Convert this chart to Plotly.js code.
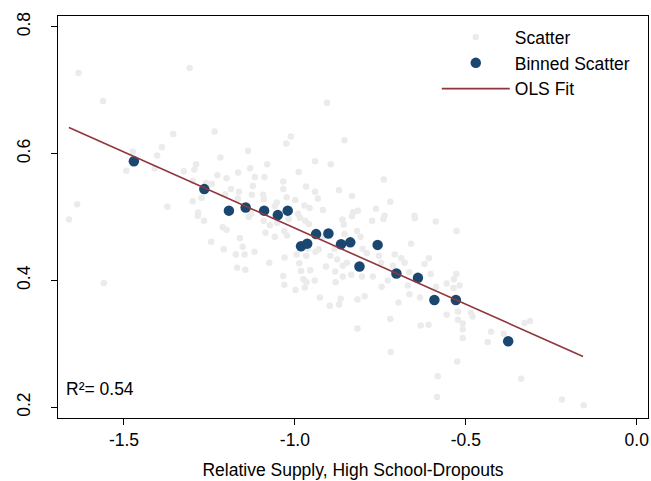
<!DOCTYPE html>
<html>
<head>
<meta charset="utf-8">
<script src="https://cdn.plot.ly/plotly-3.0.1.min.js"></script>
<style>html,body{margin:0;padding:0;background:#fff;}#chart{width:651px;height:481px;}</style>
</head>
<body>
<div id="chart"></div>
<script>
// Raw scatter (grey points)
const scatterX = [-1.633,-1.561,-1.308,-1.356,-1.389,-1.403,-1.474,-1.493,-1.410,-1.325,-1.289,-1.294,-1.299,-1.260,-1.637,-1.373,-1.299,-1.273,-1.283,-0.906,-1.235,-1.012,-1.025,-0.855,-1.137,-1.218,-1.081,-0.941,-0.895,-1.131,-0.989,-1.166,-1.227,-1.200,-1.117,-1.089,-1.243,-1.034,-1.123,-0.967,-1.034,-1.187,-1.164,-0.941,-0.871,-0.833,-1.204,-1.126,-1.093,-1.024,-0.933,-1.167,-0.999,-1.091,-1.053,-0.972,-1.059,-0.957,-0.918,-0.830,-0.991,-1.128,-0.740,-0.721,-0.763,-0.816,-0.738,-0.650,-0.741,-0.774,-0.649,-0.588,-0.527,-0.861,-0.857,-1.661,-1.559,-1.266,-1.284,-1.211,-1.200,-1.245,-1.161,-1.208,-1.153,-1.173,-1.147,-1.118,-1.135,-1.091,-1.086,-1.059,-1.023,-1.052,-1.031,-1.073,-1.169,-1.145,-1.075,-1.030,-1.034,-1.031,-0.998,-0.987,-0.982,-0.955,-0.975,-0.966,-0.971,-0.942,-0.995,-0.967,-0.927,-0.898,-0.871,-0.866,-0.881,-0.909,-0.882,-0.860,-0.835,-0.860,-0.896,-0.876,-0.848,-0.817,-0.817,-1.018,-0.985,-0.970,-0.959,-0.833,-0.818,-0.855,-0.919,-0.930,-0.940,-0.884,-0.962,-0.808,-0.802,-0.790,-0.660,-0.754,-0.748,-0.708,-0.689,-0.679,-0.713,-0.608,-0.621,-0.665,-0.603,-0.804,-0.772,-0.728,-0.746,-0.670,-0.665,-0.634,-0.796,-0.697,-0.587,-0.556,-0.535,-0.528,-0.518,-0.536,-0.556,-0.523,-0.523,-0.509,-0.509,-0.485,-0.480,-0.509,-0.426,-0.436,-0.389,-0.721,-0.632,-0.609,-0.720,-0.525,-0.582,-0.584,-0.328,-0.312,-0.338,-0.219,-0.155];
const scatterY = [0.727,0.683,0.735,0.631,0.610,0.597,0.603,0.573,0.577,0.572,0.583,0.575,0.557,0.554,0.520,0.516,0.525,0.530,0.507,0.680,0.635,0.627,0.616,0.621,0.604,0.594,0.583,0.588,0.583,0.577,0.571,0.570,0.566,0.561,0.563,0.563,0.552,0.556,0.549,0.548,0.544,0.544,0.540,0.540,0.542,0.533,0.536,0.535,0.535,0.531,0.529,0.529,0.527,0.528,0.523,0.518,0.517,0.514,0.511,0.507,0.505,0.505,0.559,0.524,0.513,0.510,0.502,0.502,0.497,0.494,0.498,0.493,0.478,0.496,0.488,0.496,0.396,0.494,0.502,0.484,0.480,0.461,0.467,0.449,0.453,0.441,0.441,0.445,0.500,0.494,0.475,0.469,0.471,0.491,0.478,0.487,0.420,0.417,0.428,0.436,0.407,0.393,0.385,0.427,0.415,0.416,0.402,0.397,0.389,0.400,0.441,0.439,0.373,0.360,0.362,0.371,0.397,0.422,0.414,0.406,0.409,0.423,0.439,0.433,0.428,0.370,0.324,0.497,0.499,0.494,0.489,0.501,0.478,0.473,0.468,0.449,0.445,0.450,0.450,0.469,0.450,0.443,0.458,0.439,0.428,0.441,0.435,0.428,0.423,0.435,0.426,0.413,0.410,0.406,0.406,0.400,0.390,0.392,0.378,0.373,0.375,0.365,0.390,0.395,0.402,0.410,0.392,0.388,0.346,0.351,0.338,0.332,0.323,0.349,0.343,0.309,0.319,0.303,0.316,0.339,0.329,0.330,0.287,0.272,0.249,0.216,0.333,0.336,0.245,0.212,0.203];

// Binned scatter (blue points)
const binnedX = [-1.471,-1.265,-1.193,-1.144,-1.090,-1.050,-1.021,-0.982,-0.964,-0.938,-0.902,-0.865,-0.838,-0.811,-0.758,-0.703,-0.640,-0.592,-0.529,-0.376];
const binnedY = [0.588,0.544,0.510,0.515,0.510,0.503,0.510,0.454,0.458,0.473,0.474,0.457,0.460,0.422,0.456,0.411,0.404,0.369,0.369,0.304];

// OLS fit endpoints
const fitX = [-1.661, -0.157];
const fitY = [0.641, 0.280];

const xTicks = [-1.5, -1.0, -0.5, 0.0];
const xTickLabels = ['-1.5', '-1.0', '-0.5', '0.0'];
const yTicks = [0.2, 0.4, 0.6, 0.8];
const yTickLabels = ['0.2', '0.4', '0.6', '0.8'];

const FONT = 'Arial, "Liberation Sans", sans-serif';

const traces = [
  {x: scatterX, y: scatterY, type: 'scatter', mode: 'markers', name: 'Scatter',
   marker: {color: '#ebebeb', size: 6.5, line: {width: 0}}},
  {x: binnedX, y: binnedY, type: 'scatter', mode: 'markers', name: 'Binned Scatter',
   marker: {color: '#1a476f', size: 10.5, line: {width: 0}}},
  {x: fitX, y: fitY, type: 'scatter', mode: 'lines', name: 'OLS Fit',
   line: {color: '#90353b', width: 1.6}}
];

const layout = {
  width: 651, height: 481,
  margin: {l: 58, r: 3, t: 16, b: 63},
  paper_bgcolor: '#fff', plot_bgcolor: '#fff',
  font: {family: FONT, size: 17.5, color: '#000'},
  showlegend: true,
  legend: {x: 0.642, y: 0.992, xanchor: 'left', yanchor: 'top', bgcolor: 'rgba(0,0,0,0)',
           font: {size: 17.5, family: FONT}, itemwidth: 68, tracegroupgap: 0},
  xaxis: {range: [-1.693, 0.033], tickvals: xTicks, ticktext: xTickLabels,
          ticks: 'outside', ticklen: 6, tickcolor: '#000', tickwidth: 1,
          showgrid: false, zeroline: false, showline: true, mirror: true,
          linecolor: '#000', linewidth: 1.2,
          tickfont: {size: 17.5, family: FONT},
          title: {text: 'Relative Supply, High School-Dropouts', font: {size: 17.5, family: FONT}, standoff: 14}},
  yaxis: {range: [0.183, 0.817], tickvals: yTicks, ticktext: yTickLabels,
          ticks: 'outside', ticklen: 6, tickcolor: '#000', tickwidth: 1, tickangle: -90,
          ticklabelstandoff: 14,
          showgrid: false, zeroline: false, showline: true, mirror: true,
          linecolor: '#000', linewidth: 1.2,
          tickfont: {size: 17.5, family: FONT}},
  annotations: [
    {xref: 'paper', yref: 'paper', x: 0.01, y: 0.072, xanchor: 'left', yanchor: 'middle',
     text: 'R²= 0.54', showarrow: false, font: {size: 17.5, family: FONT, color: '#000'}}
  ]
};

Plotly.newPlot('chart', traces, layout, {displayModeBar: false, staticPlot: true});
</script>
</body>
</html>
